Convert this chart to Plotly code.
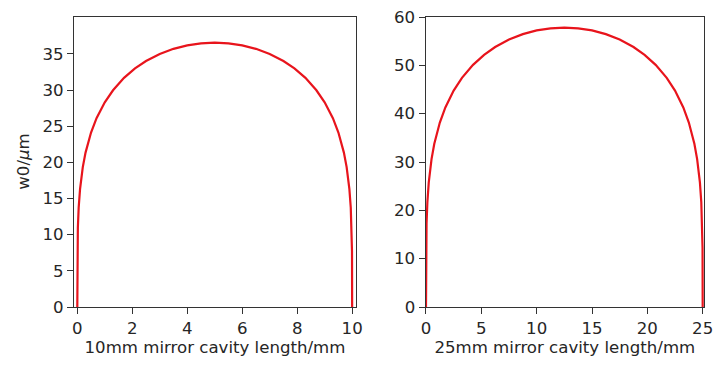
import plotly.graph_objects as go
from plotly.subplots import make_subplots

# Beam waist w0 (µm) against cavity length for two mirror radii
len_10 = [0, 0.005, 0.01, 0.02, 0.05, 0.1, 0.2, 0.3, 0.5, 0.7, 1.0, 1.3, 1.7, 2.1, 2.5,
          3.0, 3.5, 4.0, 4.5, 5.0, 5.5, 6.0, 6.5, 7.0, 7.5, 7.9, 8.3, 8.7, 9.0, 9.3,
          9.5, 9.7, 9.8, 9.9, 9.95, 9.98, 9.99, 9.995, 10.0]
w0_10 = [0, 7.73, 9.19, 10.92, 13.73, 16.31, 19.34, 21.35, 24.13, 26.11, 28.31, 29.97,
         31.68, 32.99, 34.01, 34.99, 35.70, 36.18, 36.46, 36.55, 36.46, 36.18, 35.70,
         34.99, 34.01, 32.99, 31.68, 29.97, 28.31, 26.11, 24.13, 21.35, 19.34, 16.31,
         13.73, 10.92, 9.19, 7.73, 0]

len_25 = [0, 0.0125, 0.025, 0.05, 0.125, 0.25, 0.5, 0.75, 1.25, 1.75, 2.5, 3.25, 4.25,
          5.25, 6.25, 7.5, 8.75, 10.0, 11.25, 12.5, 13.75, 15.0, 16.25, 17.5, 18.75,
          19.75, 20.75, 21.75, 22.5, 23.25, 23.75, 24.25, 24.5, 24.75, 24.875, 24.95,
          24.975, 24.9875, 25.0]
w0_25 = [0, 12.22, 14.53, 17.28, 21.71, 25.78, 30.59, 33.76, 38.16, 41.29, 44.77, 47.40,
         50.10, 52.17, 53.79, 55.34, 56.45, 57.22, 57.66, 57.80, 57.66, 57.22, 56.45,
         55.34, 53.79, 52.17, 50.10, 47.40, 44.77, 41.29, 38.16, 33.76, 30.59, 25.78,
         21.71, 17.28, 14.53, 12.22, 0]

ticks_x10 = [0, 2, 4, 6, 8, 10]
ticks_x25 = [0, 5, 10, 15, 20, 25]
ticks_y10 = [0, 5, 10, 15, 20, 25, 30, 35]
ticks_y25 = [0, 10, 20, 30, 40, 50, 60]

font = dict(family="DejaVu Sans", size=16.6, color="#262626")
axis_common = dict(showline=True, linecolor="#333333", linewidth=1.3, mirror=True,
                   ticks="outside", ticklen=6, tickwidth=1.3, tickcolor="#333333",
                   showgrid=False, zeroline=False, tickfont=font)

fig = make_subplots(rows=1, cols=2, horizontal_spacing=0.1106)
fig.add_trace(go.Scatter(x=len_10, y=w0_10, mode="lines",
                         line=dict(color="#e8141c", width=2.2), showlegend=False), 1, 1)
fig.add_trace(go.Scatter(x=len_25, y=w0_25, mode="lines",
                         line=dict(color="#e8141c", width=2.2), showlegend=False), 1, 2)

fig.update_xaxes(axis_common)
fig.update_yaxes(axis_common)
fig.update_xaxes(range=[-0.12, 10.14], tickvals=ticks_x10,
                 title=dict(text="10mm mirror cavity length/mm", font=font, standoff=2),
                 domain=[0, 0.4476], row=1, col=1)
fig.update_xaxes(range=[-0.03, 25.12], tickvals=ticks_x25,
                 title=dict(text="25mm mirror cavity length/mm", font=font, standoff=2),
                 domain=[0.5582, 1], row=1, col=2)
fig.update_yaxes(range=[0, 40.1], tickvals=ticks_y10, row=1, col=1)
fig.update_yaxes(range=[0, 60], tickvals=ticks_y25, row=1, col=2)

fig.add_annotation(text="w0/<i>μ</i>m", xref="paper", yref="paper", x=-0.0814, y=0.5,
                   xanchor="center", yanchor="middle", textangle=-90, showarrow=False,
                   font=font)

fig.update_layout(width=721, height=365, margin=dict(l=74, r=8, t=13, b=58),
                  paper_bgcolor="white", plot_bgcolor="white", font=font)
fig.write_html("out.html")
